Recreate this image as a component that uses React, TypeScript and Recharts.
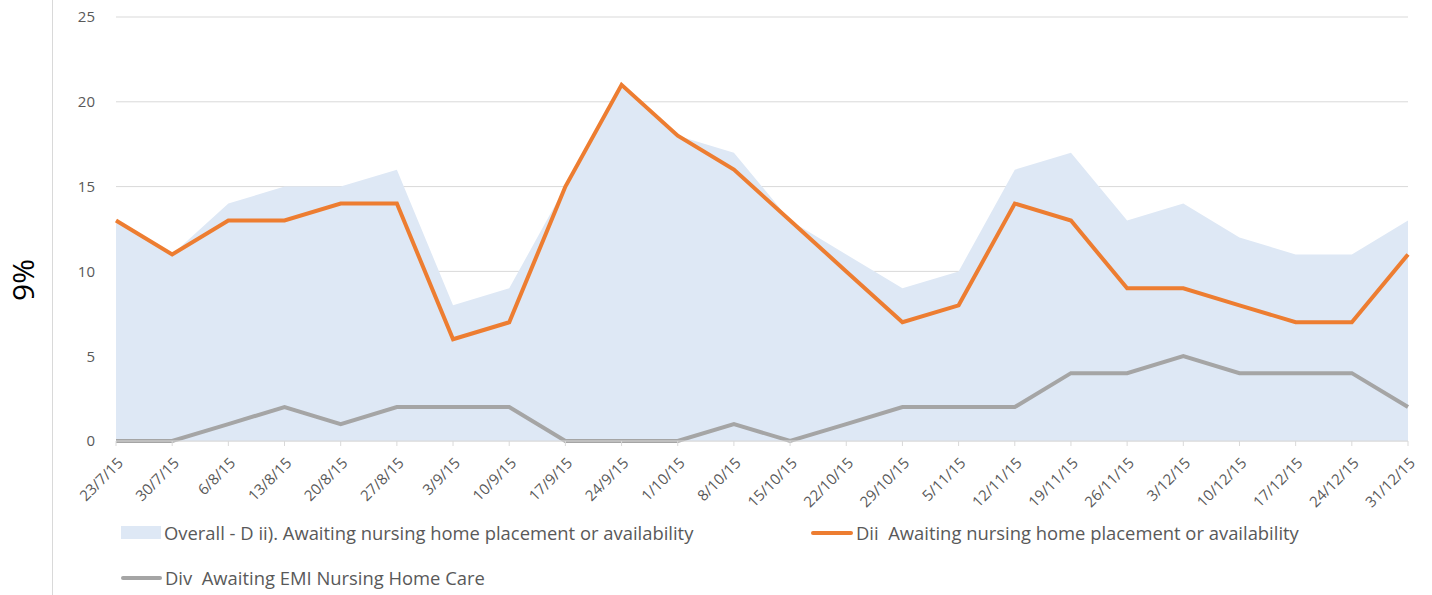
import React from 'react'
import { ComposedChart, Area, Line, XAxis, YAxis, CartesianGrid } from 'recharts'

const dates = [
  '23/7/15', '30/7/15', '6/8/15', '13/8/15', '20/8/15', '27/8/15', '3/9/15', '10/9/15',
  '17/9/15', '24/9/15', '1/10/15', '8/10/15', '15/10/15', '22/10/15', '29/10/15', '5/11/15',
  '12/11/15', '19/11/15', '26/11/15', '3/12/15', '10/12/15', '17/12/15', '24/12/15', '31/12/15'
]

// Overall - D ii)
const overall = [13, 11, 14, 15, 15, 16, 8, 9, 15, 21, 18, 17, 13, 11, 9, 10, 16, 17, 13, 14, 12, 11, 11, 13]
// Dii
const dii = [13, 11, 13, 13, 14, 14, 6, 7, 15, 21, 18, 16, 13, 10, 7, 8, 14, 13, 9, 9, 8, 7, 7, 11]
// Div
const div = [0, 0, 1, 2, 1, 2, 2, 2, 0, 0, 0, 1, 0, 1, 2, 2, 2, 4, 4, 5, 4, 4, 4, 2]

const yTicks = [0, 5, 10, 15, 20, 25]

const overallName = 'Overall - D ii). Awaiting nursing home placement or availability'
const diiName = 'Dii  Awaiting nursing home placement or availability'
const divName = 'Div  Awaiting EMI Nursing Home Care'

const data = dates.map((date, i) => ({ date, overall: overall[i], dii: dii[i], div: div[i] }))

const font = '"Open Sans", sans-serif'
const textColor = '#595959'

const DateTick = ({ x, y, payload }: any) => {
  const tx = x + 8
  const ty = y + 16
  return (
    <text
      x={tx}
      y={ty}
      transform={`rotate(-45 ${tx} ${ty})`}
      textAnchor="end"
      fill={textColor}
      fontSize={15}
      fontFamily={font}
    >
      {payload.value}
    </text>
  )
}

const legendRow = { position: 'absolute' as const, display: 'flex', alignItems: 'center', color: textColor, fontSize: 18.4, whiteSpace: 'pre' as const }

export default function App() {
  return (
    <div style={{ position: 'absolute', left: 0, top: 0, width: 1432, height: 595, background: '#fff', fontFamily: font }}>
      {/* left frame line and side label */}
      <div style={{ position: 'absolute', left: 52, top: 0, width: 1, height: 595, background: '#d9d9d9' }} />
      <div
        style={{
          position: 'absolute',
          left: 22,
          top: 280,
          transform: 'translate(-50%, -50%) rotate(-90deg)',
          fontSize: 30,
          color: '#000',
          whiteSpace: 'nowrap'
        }}
      >
        9%
      </div>

      <div style={{ position: 'absolute', left: 0, top: 0 }}>
        <ComposedChart width={1432} height={518} data={data} margin={{ top: 17, right: 24, left: 0, bottom: 0 }}>
          <CartesianGrid vertical={false} stroke="#d9d9d9" />
          <XAxis
            dataKey="date"
            scale="point"
            interval={0}
            height={77}
            stroke="#d9d9d9"
            tickSize={5}
            tick={<DateTick />}
          />
          <YAxis
            width={116}
            domain={[0, 25]}
            ticks={yTicks}
            axisLine={false}
            tickLine={false}
            tickMargin={15}
            tick={{ fill: textColor, fontSize: 15, fontFamily: font }}
          />
          <Area
            type="linear"
            dataKey="overall"
            name={overallName}
            stroke="none"
            fill="#dee8f5"
            fillOpacity={1}
            isAnimationActive={false}
          />
          <Line
            type="linear"
            dataKey="div"
            name={divName}
            stroke="#a5a5a5"
            strokeWidth={4}
            dot={false}
            isAnimationActive={false}
          />
          <Line
            type="linear"
            dataKey="dii"
            name={diiName}
            stroke="#ed7d31"
            strokeWidth={4}
            dot={false}
            isAnimationActive={false}
          />
        </ComposedChart>
      </div>

      {/* legend */}
      <div style={{ ...legendRow, left: 121, top: 520 }}>
        <span style={{ display: 'inline-block', width: 40, height: 13, background: '#dee8f5', marginRight: 3 }} />
        {overallName}
      </div>
      <div style={{ ...legendRow, left: 811, top: 520 }}>
        <span style={{ display: 'inline-block', width: 42, height: 4, background: '#ed7d31', borderRadius: 2, marginRight: 3 }} />
        {diiName}
      </div>
      <div style={{ ...legendRow, left: 121, top: 565 }}>
        <span style={{ display: 'inline-block', width: 41, height: 4, background: '#a5a5a5', borderRadius: 2, marginRight: 3 }} />
        {divName}
      </div>
    </div>
  )
}
